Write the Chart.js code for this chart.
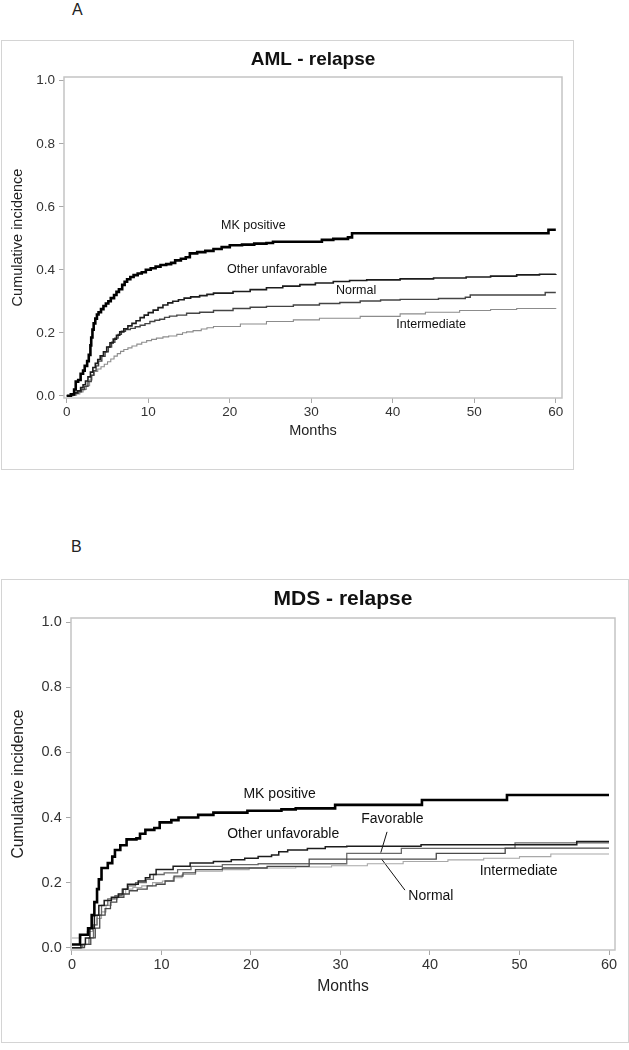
<!DOCTYPE html>
<html>
<head>
<meta charset="utf-8">
<title>AML / MDS - relapse</title>
<script src="https://cdn.jsdelivr.net/npm/chart.js@4.4.1/dist/chart.umd.min.js"></script>
<style>
  body { margin: 0; background: #fff; font-family: "Liberation Sans", Arial, sans-serif; }
  #page { position: relative; width: 629px; height: 1050px; overflow: hidden; }
  .tag { position: absolute; font-size: 16px; color: #222; line-height: 18px; }
  .frame { position: absolute; border: 1px solid #d4d4d4; box-sizing: border-box; pointer-events: none; }
  canvas { position: absolute; }
</style>
</head>
<body>
<div id="page">
  <div class="tag" style="left:72px; top:1px">A</div>
  <canvas id="chartA" width="575" height="431" style="left:0; top:40px"></canvas>
  <div class="frame" style="left:1px; top:40px; width:573px; height:430px"></div>

  <div class="tag" style="left:71px; top:538px">B</div>
  <canvas id="chartB" width="629" height="464" style="left:0; top:579px"></canvas>
  <div class="frame" style="left:1px; top:579px; width:628px; height:464px"></div>
</div>

<script>
// Ejes compartidos
const xTicks = [0, 10, 20, 30, 40, 50, 60];
const yTicks = [0, 0.2, 0.4, 0.6, 0.8, 1.0];

// Panel A - AML: [mes, incidencia acumulada] en cada salto
const amlMkPositive = [[0,0],[0.5,0.005],[0.9,0.02],[1.1,0.045],[1.4,0.05],[1.7,0.07],[2.0,0.08],[2.2,0.095],[2.5,0.11],[2.7,0.13],[2.9,0.16],[3.0,0.185],[3.15,0.21],[3.3,0.23],[3.5,0.245],[3.7,0.258],[3.9,0.265],[4.2,0.275],[4.5,0.285],[4.8,0.293],[5.1,0.3],[5.4,0.31],[5.8,0.32],[6.1,0.33],[6.4,0.338],[6.8,0.352],[7.1,0.362],[7.4,0.37],[7.8,0.377],[8.2,0.383],[8.7,0.388],[9.2,0.392],[9.7,0.4],[10.3,0.405],[10.9,0.41],[11.5,0.415],[12.2,0.418],[12.8,0.422],[13.3,0.43],[14.0,0.435],[14.6,0.44],[15.1,0.452],[16.0,0.456],[17.0,0.46],[18.0,0.466],[19.0,0.472],[20.0,0.478],[21.5,0.48],[23.0,0.483],[24.5,0.485],[25.3,0.489],[31.3,0.495],[32.7,0.498],[34.5,0.503],[35.0,0.516],[59.1,0.527],[60.0,0.527]];
const amlOtherUnfav = [[0,0],[0.5,0.003],[0.9,0.01],[1.3,0.016],[1.7,0.026],[2.0,0.035],[2.3,0.047],[2.6,0.06],[2.9,0.075],[3.2,0.09],[3.5,0.103],[3.8,0.115],[4.1,0.127],[4.5,0.14],[4.9,0.155],[5.3,0.168],[5.7,0.18],[6.1,0.192],[6.5,0.203],[7.0,0.213],[7.5,0.222],[8.0,0.23],[8.5,0.238],[9.0,0.248],[9.5,0.256],[10.0,0.264],[10.6,0.272],[11.2,0.28],[11.8,0.288],[12.4,0.295],[13.0,0.3],[13.7,0.305],[14.4,0.31],[15.2,0.314],[16.3,0.318],[17.2,0.322],[18.0,0.326],[20.4,0.331],[22.5,0.337],[24.5,0.343],[26.5,0.348],[28.6,0.353],[30.5,0.358],[32.7,0.363],[34.7,0.366],[36.8,0.368],[40.9,0.371],[45.0,0.374],[49.0,0.377],[52.0,0.38],[55.2,0.384],[58.0,0.386],[60.0,0.387]];
const amlNormal = [[0,0],[0.6,0.003],[1.0,0.008],[1.4,0.013],[1.8,0.02],[2.2,0.03],[2.6,0.045],[3.0,0.065],[3.3,0.08],[3.6,0.095],[3.9,0.11],[4.3,0.125],[4.7,0.14],[5.1,0.155],[5.5,0.17],[5.9,0.183],[6.3,0.195],[6.7,0.205],[7.2,0.21],[7.8,0.214],[8.4,0.219],[9.0,0.224],[9.6,0.229],[10.2,0.236],[10.8,0.24],[11.4,0.243],[12.0,0.249],[12.6,0.253],[13.5,0.256],[14.7,0.262],[16.3,0.265],[18.0,0.271],[20.4,0.277],[22.5,0.281],[24.5,0.284],[27.8,0.288],[31.0,0.293],[33.5,0.296],[36.0,0.301],[38.5,0.304],[40.9,0.306],[45.6,0.309],[48.9,0.313],[49.5,0.32],[58.7,0.328],[60.0,0.328]];
const amlIntermediate = [[0,0],[0.8,0.002],[1.2,0.006],[1.6,0.012],[2.0,0.02],[2.4,0.032],[2.8,0.05],[3.1,0.065],[3.4,0.077],[3.8,0.085],[4.2,0.092],[4.6,0.1],[5.0,0.108],[5.4,0.117],[5.8,0.126],[6.2,0.134],[6.6,0.141],[7.0,0.147],[7.5,0.152],[8.0,0.158],[8.6,0.164],[9.2,0.17],[9.8,0.175],[10.4,0.179],[11.0,0.183],[11.8,0.187],[12.5,0.19],[13.5,0.195],[14.2,0.2],[14.7,0.203],[15.5,0.207],[16.5,0.212],[17.2,0.216],[18.0,0.22],[21.3,0.228],[24.5,0.236],[27.8,0.241],[31.0,0.246],[36.0,0.252],[40.9,0.26],[44.0,0.265],[48.2,0.271],[52.0,0.274],[55.2,0.277],[60.0,0.278]];
const amlLabels = [['MK positive', 22.9, 0.541], ['Other unfavorable', 25.8, 0.4], ['Normal', 35.5, 0.333], ['Intermediate', 44.7, 0.225]];

// Panel B - MDS
const mdsMkPositive = [[0,0.01],[0.9,0.04],[1.8,0.06],[2.2,0.1],[2.5,0.14],[2.8,0.18],[3.0,0.21],[3.3,0.245],[4.0,0.26],[4.5,0.28],[4.8,0.3],[5.4,0.315],[6.1,0.333],[7.2,0.336],[7.6,0.35],[8.2,0.362],[9.2,0.368],[9.8,0.385],[11.1,0.392],[11.9,0.4],[14.1,0.408],[15.8,0.415],[19.6,0.421],[23.4,0.425],[25.0,0.428],[29.4,0.439],[39.1,0.454],[48.6,0.469],[60.0,0.469]];
const mdsOtherUnfav = [[0,0],[1.0,0.01],[1.5,0.03],[2.0,0.06],[2.5,0.1],[3.0,0.13],[3.6,0.145],[4.4,0.155],[5.2,0.165],[5.7,0.18],[6.2,0.195],[7.4,0.205],[8.2,0.215],[8.7,0.225],[9.4,0.24],[11.3,0.25],[13.2,0.26],[15.8,0.265],[17.8,0.27],[19.3,0.275],[20.8,0.28],[22.3,0.285],[23.1,0.295],[24.1,0.3],[26.3,0.305],[28.3,0.31],[30.7,0.312],[39.0,0.316],[56.4,0.326],[60.0,0.326]];
const mdsFavorable = [[0,0],[1.2,0.01],[1.9,0.03],[2.4,0.07],[2.8,0.1],[3.3,0.13],[4.0,0.15],[4.8,0.16],[5.6,0.18],[6.3,0.19],[7.1,0.2],[8.3,0.21],[9.1,0.225],[10.3,0.23],[11.8,0.24],[13.3,0.25],[16.8,0.255],[20.8,0.258],[30.7,0.29],[36.8,0.305],[49.5,0.322],[60.0,0.322]];
const mdsNormal = [[0,0],[1.4,0.01],[2.1,0.03],[2.6,0.06],[3.1,0.1],[3.7,0.12],[4.3,0.14],[5.0,0.155],[5.8,0.165],[6.4,0.175],[7.3,0.18],[8.4,0.19],[9.4,0.195],[10.4,0.205],[11.4,0.22],[12.4,0.23],[13.8,0.24],[16.8,0.245],[21.8,0.25],[26.5,0.272],[40.7,0.29],[48.4,0.306],[60.0,0.306]];
const mdsIntermediate = [[0,0.03],[1.0,0.04],[1.7,0.05],[2.3,0.07],[2.8,0.09],[3.3,0.11],[3.8,0.13],[4.4,0.15],[5.1,0.165],[6.0,0.18],[6.8,0.185],[7.8,0.19],[9.0,0.2],[10.1,0.205],[11.3,0.215],[12.3,0.225],[13.8,0.235],[16.8,0.24],[19.8,0.245],[25.0,0.248],[29.0,0.252],[33.0,0.258],[37.0,0.265],[42.0,0.27],[46.0,0.275],[50.0,0.28],[53.5,0.288],[60.0,0.288]];
const mdsLabels = [['MK positive', 23.2, 0.473], ['Other unfavorable', 23.6, 0.349], ['Favorable', 35.8, 0.395], ['Normal', 40.1, 0.159], ['Intermediate', 49.9, 0.234]];
// Líneas guía de las etiquetas en B
const mdsFavorableLeader = [[35.2, 0.356], [34.5, 0.292]];
const mdsNormalLeader = [[37.2, 0.177], [34.6, 0.272]];

Chart.defaults.font.family = '"Liberation Sans", Arial, sans-serif';

// Convierte pares [x, y] al formato del dataset
function escalon(puntos, color, ancho) {
    return {
        data: puntos.map(([x, y]) => ({ x, y })),
        borderColor: color,
        borderWidth: ancho,
        stepped: 'before',
        pointRadius: 0,
        fill: false
    };
}

function guia(puntos) {
    return {
        data: puntos.map(([x, y]) => ({ x, y })),
        borderColor: '#111',
        borderWidth: 1,
        pointRadius: 0,
        fill: false
    };
}

// Marco del área de la gráfica
const marcoPlot = {
    id: 'marcoPlot',
    afterDatasetsDraw(chart) {
        const { ctx, chartArea: a } = chart;
        ctx.save();
        ctx.strokeStyle = '#c4c4c4';
        ctx.lineWidth = 1.5;
        ctx.strokeRect(a.left, a.top, a.right - a.left, a.bottom - a.top);
        ctx.restore();
    }
};

// Etiquetas de las curvas en coordenadas de datos
function etiquetas(items, size) {
    return {
        id: 'etiquetas',
        afterDatasetsDraw(chart) {
            const { ctx, scales: { x, y } } = chart;
            ctx.save();
            ctx.font = size + 'px "Liberation Sans", Arial, sans-serif';
            ctx.fillStyle = '#111';
            ctx.textAlign = 'center';
            ctx.textBaseline = 'middle';
            items.forEach(([texto, t, v]) => ctx.fillText(texto, x.getPixelForValue(t), y.getPixelForValue(v)));
            ctx.restore();
        }
    };
}

function configuracion(s) {
    return {
        type: 'line',
        data: { datasets: s.datasets },
        options: {
            responsive: false,
            animation: false,
            devicePixelRatio: 1,
            layout: { padding: { left: 0, right: s.padRight, top: 0, bottom: 0 } },
            plugins: {
                legend: { display: false },
                tooltip: { enabled: false },
                title: {
                    display: true,
                    text: s.title,
                    fullSize: false,
                    color: '#111',
                    font: { size: s.titleSize, weight: 'bold' },
                    padding: { top: s.titleTop, bottom: s.titleBottom }
                }
            },
            scales: {
                x: {
                    type: 'linear',
                    min: s.xMin,
                    max: s.xMax,
                    afterBuildTicks: axis => { axis.ticks = xTicks.map(v => ({ value: v })); },
                    afterFit: axis => { axis.height = s.xHeight; },
                    grid: { drawOnChartArea: false, drawTicks: true, tickLength: 5, color: '#a8a8a8' },
                    border: { display: false },
                    ticks: { color: '#333', font: { size: s.tickSize }, padding: s.xTickPad, maxRotation: 0, autoSkip: false },
                    title: { display: true, text: 'Months', color: '#222', font: { size: s.axisSize }, padding: { top: 0, bottom: s.xTitlePad } }
                },
                y: {
                    type: 'linear',
                    min: s.yMin,
                    max: s.yMax,
                    afterBuildTicks: axis => { axis.ticks = yTicks.map(v => ({ value: v })); },
                    afterFit: axis => { axis.width = s.yWidth; },
                    grid: { drawOnChartArea: false, drawTicks: true, tickLength: 5, color: '#a8a8a8' },
                    border: { display: false },
                    ticks: { color: '#333', font: { size: s.tickSize }, padding: s.yTickPad, callback: v => v.toFixed(1) },
                    title: { display: true, text: 'Cumulative incidence', color: '#222', font: { size: s.axisSize }, padding: { top: s.yTitlePad, bottom: 0 } }
                }
            }
        },
        plugins: [marcoPlot, etiquetas(s.labels, s.labelSize)]
    };
}

new Chart(document.getElementById('chartA'), configuracion({
    title: 'AML - relapse',
    datasets: [
        escalon(amlMkPositive, '#000', 2.6),
        escalon(amlOtherUnfav, '#1c1c1c', 1.6),
        escalon(amlNormal, '#444', 1.4),
        escalon(amlIntermediate, '#8c8c8c', 1.1)
    ],
    labels: amlLabels, labelSize: 12.5,
    xMin: -0.34, xMax: 60.76, yMin: -0.007, yMax: 1.012,
    padRight: 13, yWidth: 64, xHeight: 73,
    titleSize: 19, titleTop: 8.6, titleBottom: 5.6,
    tickSize: 13.5, axisSize: 14.5,
    xTickPad: 1, yTickPad: 4, xTitlePad: 31.5, yTitlePad: 9.3
}));

new Chart(document.getElementById('chartB'), configuracion({
    title: 'MDS - relapse',
    datasets: [
        escalon(mdsMkPositive, '#000', 2.6),
        escalon(mdsOtherUnfav, '#1c1c1c', 1.5),
        escalon(mdsNormal, '#4a4a4a', 1.3),
        escalon(mdsFavorable, '#6a6a6a', 1.3),
        escalon(mdsIntermediate, '#a8a8a8', 1.1),
        guia(mdsFavorableLeader),
        guia(mdsNormalLeader)
    ],
    labels: mdsLabels, labelSize: 14,
    xMin: -0.11, xMax: 60.67, yMin: -0.007, yMax: 1.013,
    padRight: 14, yWidth: 71, xHeight: 93,
    titleSize: 21, titleTop: 7.4, titleBottom: 6.4,
    tickSize: 14.5, axisSize: 15.7,
    xTickPad: 1.3, yTickPad: 4.3, xTitlePad: 46.6, yTitlePad: 9.6
}));
</script>
</body>
</html>
